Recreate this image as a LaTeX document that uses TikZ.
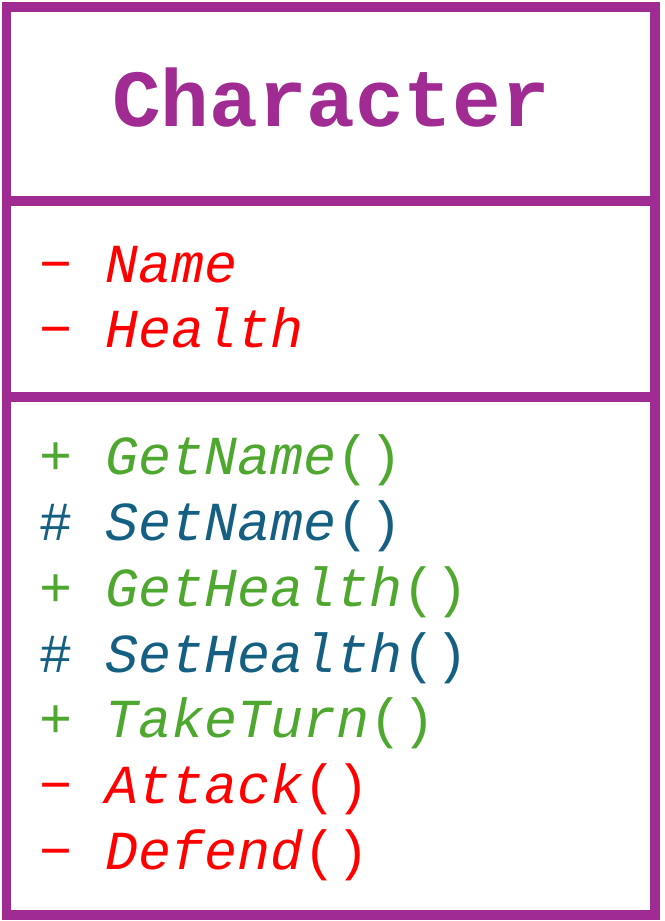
\documentclass[tikz,border=0pt]{standalone}
\usepackage{fontspec}
\newfontfamily\umlfont{Liberation Mono}
\definecolor{umlpurple}{HTML}{A02B93}
\definecolor{umlpublic}{HTML}{4EA72E}
\definecolor{umlprotected}{HTML}{156082}
\definecolor{umlprivate}{HTML}{FF0000}
\tikzset{
  border/.style={draw=umlpurple, line width=9.5pt},
  member/.style={anchor=base west, inner sep=0pt, font=\umlfont\fontsize{55}{55}\selectfont},
  public/.style={member, text=umlpublic},
  protected/.style={member, text=umlprotected},
  private/.style={member, text=umlprivate},
  classname/.style={anchor=base, inner sep=0pt, text=umlpurple,
    font=\umlfont\bfseries\fontsize{81}{81}\selectfont}
}
\newcommand{\umlmember}[2]{#1 {\itshape #2}}
\begin{document}
\begin{tikzpicture}[x=1pt, y=-1pt]
  \useasboundingbox (0,0) rectangle (664,921);
  % class box and its compartments
  \draw[border] (6.5,7) rectangle (655,915);
  \draw[border] (2,201) -- (659.75,201);
  \draw[border] (2,397) -- (659.75,397);
  % class name
  \node[classname] (title) at (331,126) {Character};
  % attributes
  \node[private] (attrName)   at (39,282) {\umlmember{−}{Name}};
  \node[private] (attrHealth) at (39,347) {\umlmember{−}{Health}};
  % operations
  \node[public]    (opGetName)   at (39,474) {\umlmember{+}{GetName}()};
  \node[protected] (opSetName)   at (39,540) {\umlmember{\#}{SetName}()};
  \node[public]    (opGetHealth) at (39,606) {\umlmember{+}{GetHealth}()};
  \node[protected] (opSetHealth) at (39,672) {\umlmember{\#}{SetHealth}()};
  \node[public]    (opTakeTurn)  at (39,737) {\umlmember{+}{TakeTurn}()};
  \node[private]   (opAttack)    at (39,803) {\umlmember{−}{Attack}()};
  \node[private]   (opDefend)    at (39,869) {\umlmember{−}{Defend}()};
\end{tikzpicture}
\end{document}
